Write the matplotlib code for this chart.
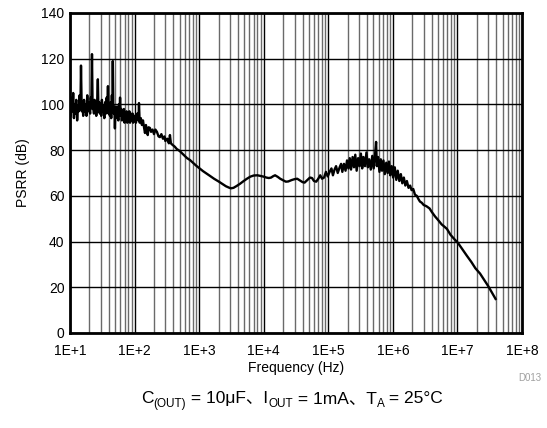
import matplotlib
matplotlib.use("Agg")
import matplotlib.pyplot as plt
from matplotlib.ticker import FixedLocator, NullFormatter, LogLocator
import numpy as np

plt.rcParams['font.family'] = ['Liberation Sans', 'Noto Sans CJK SC', 'DejaVu Sans']

# ---- data (frequency in Hz, PSRR in dB) ----
freq_low = [10, 10.3, 10.6, 10.9, 11.2, 11.5, 11.8, 12.1, 12.5, 12.9, 13.3, 13.7, 14.1, 14.5,
            14.8, 15.2, 15.6, 16.0, 16.5, 17.0, 17.5, 18.0, 18.5, 19.0, 19.5, 20.0, 20.5, 21.0,
            21.4, 21.9, 22.4, 22.8, 23.5, 24.0, 24.5, 25.0, 25.5, 26.2, 27.0, 27.6, 28.3, 29.0,
            29.7, 30.4, 31.2, 32.0, 33.0, 34.0, 35.0, 36.0, 37.0, 37.8, 38.7, 39.5, 40.5, 41.5,
            42.5, 43.5, 44.5, 45.3, 46.0, 46.8, 47.7, 48.6, 49.6, 50.5, 51.5, 52.5, 53.6, 54.8,
            56.0, 57.2, 58.4, 59.6, 61.0, 62.4, 63.8, 65.3, 66.8, 68.4, 70.0, 71.7, 73.4, 75.2,
            77.0, 79.0, 81.0, 83.0, 85.0, 87.0, 89.0, 91.0, 93.0, 95.0, 97.0]
psrr_low = [100, 95, 103, 97, 105, 94, 100, 96, 102, 93, 99, 97, 104, 98,
            117, 97, 101, 95, 102, 97, 100, 95, 104, 97, 101, 98, 96, 103,
            99, 122, 98, 100, 96, 102, 97, 100, 95, 99, 111, 97, 101, 96,
            100, 95, 102, 97, 99, 94, 101, 96, 103, 98, 108, 96, 100, 95,
            101, 94, 104, 98, 119, 100, 96, 99, 89.5, 97, 94, 99, 95, 97,
            93, 100, 96, 103, 95, 98, 93, 97, 94, 98, 92, 96, 94, 97,
            92, 96, 93, 97, 92, 96, 94, 93, 96, 92, 95]

freq_mid = [100, 105, 110, 115, 117, 120, 125, 130, 135, 140, 145, 150, 160, 165, 173, 180, 190,
            200, 210, 222, 235, 247, 260, 275, 290, 300, 320, 340, 353, 365, 380, 400, 420, 450,
            480, 505, 550, 600, 650, 720, 800, 900, 1020, 1150, 1300, 1460, 1700, 2000, 2300,
            2600, 2900, 3100, 3400, 3800, 4300, 4900, 5500, 6200, 7000, 8000, 9000, 10000,
            11000, 12000, 13000, 14000, 15000, 16500, 18000, 20000, 22000, 24000, 27000, 30000,
            33000, 36000, 40000, 43000, 47000, 52000, 56000, 60000, 65000, 70000, 75000, 80000,
            86000, 92000, 98000]
psrr_mid = [95, 92, 96, 93, 100.6, 92, 94, 91, 93, 90, 87.5, 91, 86.6, 90, 89.7, 88, 89,
            87, 89, 88, 86, 85.7, 87, 85, 86, 84, 85, 83, 86.6, 83, 82.5, 82, 81.5, 80.5,
            80, 79.5, 78.5, 77.5, 76.5, 75.7, 74.5, 73.2, 72, 70.8, 69.8, 68.8, 67.5, 66.3, 65.2,
            64.2, 63.6, 63.3, 63.5, 64.3, 65.3, 66.5, 67.5, 68.4, 68.9, 69, 68.7, 68.4,
            68, 67.8, 68, 68.6, 69, 68.3, 67.5, 66.8, 66.2, 66.3, 66.9, 67.3,
            67.5, 66.8, 66, 65.8, 66.8, 68, 67.8, 66.5, 66.2, 67.5, 69, 67.5,
            68, 70.5, 68.5]

freq_high = [105000, 112000, 118000, 125000, 132000, 140000, 150000, 158000, 165000, 175000,
             185000, 195000, 205000, 215000, 225000, 238000, 250000, 262000, 275000, 290000,
             305000, 320000, 335000, 350000, 370000, 390000, 410000, 430000, 455000, 480000,
             505000, 530000, 550000, 565000, 590000, 620000, 650000, 680000, 715000, 750000,
             790000, 830000, 870000, 910000, 960000, 1010000, 1070000, 1130000, 1190000,
             1260000, 1330000, 1400000, 1480000, 1560000, 1650000, 1750000, 1850000, 1950000,
             2070000, 2200000, 2350000, 2500000, 2630000, 2800000, 3000000, 3300000, 3700000,
             4000000, 4500000, 5000000, 5700000, 6300000, 6900000, 7800000, 9000000, 10200000,
             12000000, 14000000, 16500000, 19000000, 22400000, 26000000, 30000000, 34000000,
             39000000]
psrr_high = [70.5, 72, 69, 71.5, 73, 70, 72.5, 74, 70.5, 74,
             71, 75.5, 72, 76.5, 71.5, 77, 72.5, 78, 71, 76.5,
             73, 78.5, 72, 77, 73, 79, 72.5, 76, 71.5, 77.5,
             72, 78, 83.6, 73, 77, 70.5, 76, 71, 75.5, 69.5,
             74.5, 70, 75, 69, 73, 68, 72.5, 67, 71,
             66.5, 69.5, 65.5, 68, 64.5, 66.5, 63.5, 64.5, 62.5,
             63, 60.5, 60, 58.5, 57.5, 57, 56, 55.5, 54.5,
             53, 51, 49.5, 47.5, 46.5, 45.5, 43, 41, 39.4,
             36.5, 33.8, 31, 28.3, 26, 23.2, 20.5, 17.8,
             14.9]

freq = freq_low + freq_mid + freq_high
psrr = psrr_low + psrr_mid + psrr_high

x_ticks = [1e1, 1e2, 1e3, 1e4, 1e5, 1e6, 1e7, 1e8]
x_tick_labels = ["1E+1", "1E+2", "1E+3", "1E+4", "1E+5", "1E+6", "1E+7", "1E+8"]
y_ticks = [0, 20, 40, 60, 80, 100, 120, 140]

# ---- figure ----
W, H = 547, 428
fig = plt.figure(figsize=(W / 100, H / 100), dpi=100)
ax = fig.add_axes([70 / W, 1 - 333 / H, 452 / W, 320 / H])

ax.set_xscale('log')
ax.set_xlim(1e1, 1e8)
ax.set_ylim(0, 140)

ax.xaxis.set_major_locator(FixedLocator(x_ticks))
ax.set_xticklabels(x_tick_labels)
ax.xaxis.set_minor_locator(LogLocator(base=10, subs=np.arange(2, 10), numticks=100))
ax.xaxis.set_minor_formatter(NullFormatter())
ax.set_yticks(y_ticks)

ax.grid(True, which='major', axis='both', color='black', linewidth=1.0)
ax.grid(True, which='minor', axis='x', color='#6a6a6a', linewidth=1.0)
ax.set_axisbelow(True)

ax.tick_params(which='both', length=0, labelsize=10, colors='black', pad=8)
ax.tick_params(axis='y', pad=4)

for s in ax.spines.values():
    s.set_linewidth(2.0)
    s.set_color('black')

ax.plot(freq, psrr, color='black', linewidth=1.7, solid_joinstyle='round')

ax.set_xlabel("Frequency (Hz)", fontsize=10, labelpad=2)
ax.set_ylabel("PSRR (dB)", fontsize=10, labelpad=8)

fig.text(530 / W, 1 - 378 / H, "D013", fontsize=7, color='#a0a0a0', ha='center', va='center')

# ---- caption with subscripts ----
renderer = fig.canvas.get_renderer()
pieces = [("C", 12.5, 0), ("(OUT)", 8.5, -4), (" = 10μF、I", 12.5, 0), ("OUT", 8.5, -4),
          (" = 1mA、T", 12.5, 0), ("A", 8.5, -4), (" = 25°C", 12.5, 0)]
baseline = 403
texts = []
xpos = 0
for s, sz, dy in pieces:
    t = fig.text(xpos / W, 1 - (baseline - dy) / H, s, fontsize=sz, ha='left', va='baseline')
    bb = t.get_window_extent(renderer)
    texts.append((t, xpos, dy))
    xpos += bb.width
total = xpos
x0 = 292 - total / 2
for t, xp, dy in texts:
    t.set_x((x0 + xp) / W)

fig.savefig("out.png", dpi=100)
